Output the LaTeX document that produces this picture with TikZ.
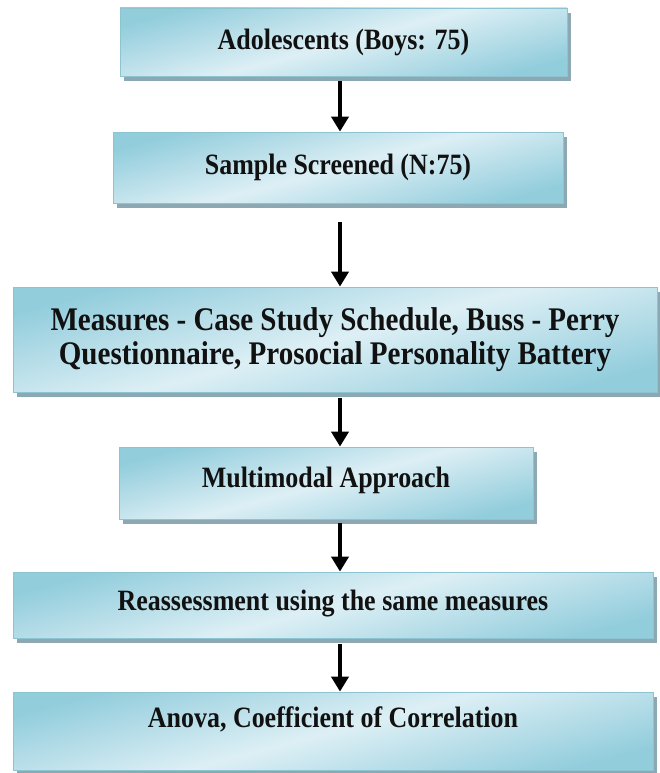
\documentclass[tikz,border=0pt]{standalone}
\usepackage{fontspec}
\setmainfont{Liberation Serif}[FakeStretch=0.88]
\usetikzlibrary{arrows.meta,calc,positioning,shadows}
\definecolor{BoxDark}{HTML}{92CDDC}
\definecolor{BoxLight}{HTML}{DDEFF5}
\definecolor{BoxEdge}{HTML}{8EC3D2}
\definecolor{BoxShade}{HTML}{8BA8B3}
\definecolor{InkDark}{HTML}{111111}

\begin{document}
\begin{tikzpicture}[x=1pt, y=-1pt,
  stage/.style={draw=BoxEdge, line width=0.8pt, top color=BoxDark, bottom color=BoxDark, middle color=BoxLight, shading angle=15, drop shadow={shadow xshift=4pt, shadow yshift=-5pt, fill=BoxShade, opacity=1}, inner sep=0pt, font=\bfseries\fontsize{29.5}{34}\selectfont, text=InkDark, align=center},
  flow/.style={line width=3.8pt, draw=black, -{Triangle[width=17pt,length=15pt]}},
]
\useasboundingbox (0,0) rectangle (659,773);
\coordinate (spine) at (340,0);
\node[stage, minimum width=447pt, text height=41.8pt, text depth=26.2pt] (adol) at (343.5,42) {Adolescents (Boys: 75)};
\node[stage, minimum width=450pt, text height=42.8pt, text depth=28.2pt] (screen) at (338,167.5) {Sample Screened (N:75)};
\node[stage, minimum width=644pt, minimum height=105pt, font=\bfseries\fontsize{33}{34}\selectfont] (measures) at (335,339.5) {Measures - Case Study Schedule, Buss - Perry\\Questionnaire, Prosocial Personality Battery};
\node[stage, minimum width=414pt, text height=40.8pt, text depth=31.2pt] (multi) at (326,483) {Multimodal Approach};
\node[stage, minimum width=640pt, text height=38.8pt, text depth=27.2pt] (reassess) at (333,605) {Reassessment using the same measures};
\node[stage, minimum width=640pt, text height=35.8pt, text depth=42.2pt] (stats) at (333,731) {Anova, Coefficient of Correlation};
% connectors down the middle
\foreach \from/\to/\gap in {adol/screen/5, screen/measures/19, measures/multi/6, multi/reassess/4, reassess/stats/6}
  \draw[flow] ($(\from.south -| spine)+(0,\gap)$) -- (\to.north -| spine);
\end{tikzpicture}
\end{document}
